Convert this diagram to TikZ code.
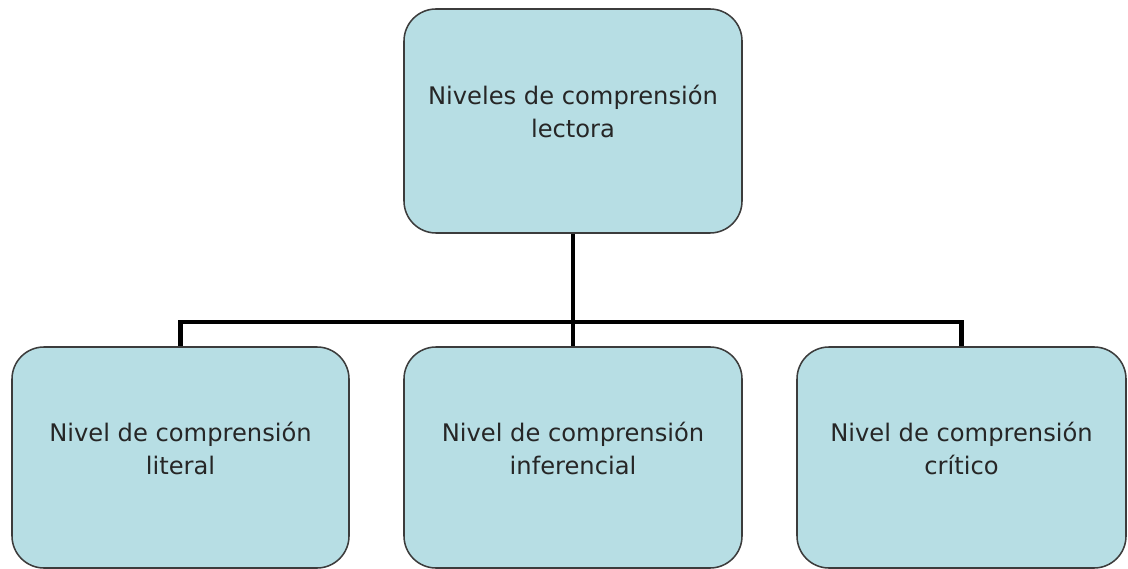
\documentclass[tikz,border=0pt]{standalone}
\usepackage{fontspec}
\setmainfont{DejaVu Sans}
\usetikzlibrary{positioning}
\definecolor{cajaazul}{RGB}{183,222,228}
\definecolor{bordegris}{RGB}{60,60,60}
\tikzstyle{nivel} = [rectangle, draw=bordegris, fill=cajaazul, line width=1.1pt,
    rounded corners=0.8cm, inner sep=0pt]
\tikzstyle{rotulo} = [align=center, inner sep=0pt,
    font=\fontsize{17.2}{23.4}\selectfont, text=black!85]

\begin{document}
\begin{tikzpicture}[x=0.025cm,y=-0.025cm,line width=3.3pt]

  \useasboundingbox (0,0) rectangle (1128,569);

  \node[nivel, minimum width=338*0.025cm, minimum height=224*0.025cm,
        label={[rotulo,yshift=7pt]center:Niveles de comprensión\\lectora}]
        (lectora) at (573,121) {};
  \node[nivel, minimum width=337*0.025cm, minimum height=221*0.025cm,
        label={[rotulo,yshift=6.4pt]center:Nivel de comprensión\\literal}]
        (literal) at (180.5,457.5) {};
  \node[nivel, minimum width=338*0.025cm, minimum height=221*0.025cm,
        label={[rotulo,yshift=6.4pt]center:Nivel de comprensión\\inferencial}]
        (inferencial) at (573,457.5) {};
  \node[nivel, minimum width=329*0.025cm, minimum height=221*0.025cm,
        label={[rotulo,yshift=6.4pt]center:Nivel de comprensión\\crítico}]
        (critico) at (961.5,457.5) {};

  \coordinate (union) at (573,322);

  \draw (lectora.south) -- (union);
  \draw (literal.north) |- (union) -| (critico.north);
  \draw (union) -- (inferencial.north);
\end{tikzpicture}
\end{document}
